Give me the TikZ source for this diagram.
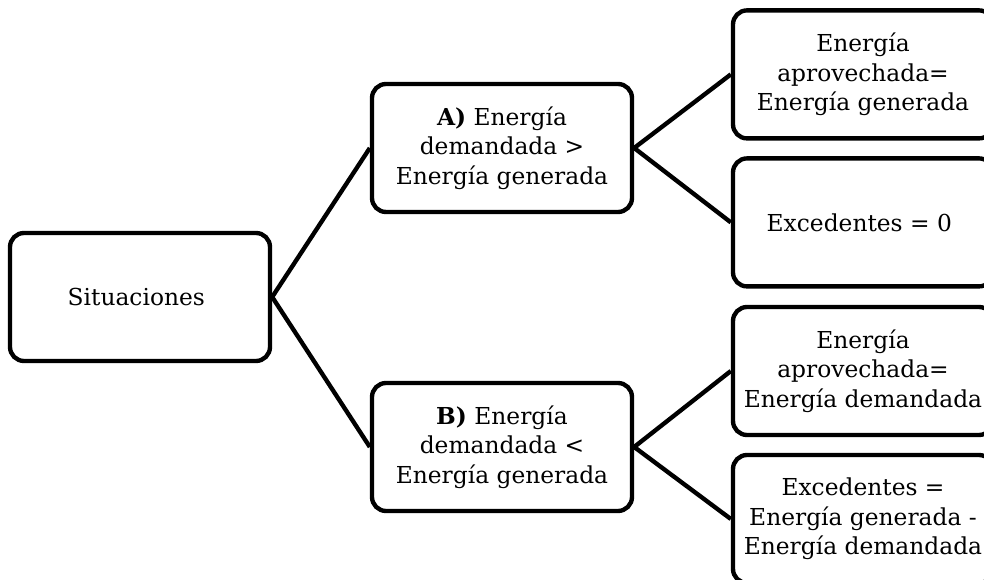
\documentclass[tikz,border=0pt]{standalone}
\usepackage{fontspec}
\setmainfont{DejaVu Serif}
\usepackage{tikz}

\begin{document}
\begin{tikzpicture}[
    box/.style={draw, line width=3.1pt, rounded corners=3.5mm,
      minimum width=6.5cm, minimum height=3.2cm, inner sep=0pt,
      align=center, font=\fontsize{16.6}{21}\selectfont},
    link/.style={line width=3.1pt}]
  \useasboundingbox (0,0) rectangle (24.6,14.5);
  \node [box] (1) at (3.5,7.075) { Situaciones };
  \node [box] (2) at (12.55,10.8) { \textbf{A)} Energía \\
    demandada > \\ Energía generada };
  \node [box] (3) at (12.55,3.325) { \textbf{B)} Energía \\
    demandada < \\ Energía generada };
  \node [box] (4) at (21.575,12.64) { Energía \\ aprovechada= \\
    Energía generada };
  \node [box] (5) at (21.575,8.94) { Excedentes = 0 };
  \node [box] (6) at (21.575,5.225) { Energía \\ aprovechada= \\
    Energía demandada };
  \node [box] (7) at (21.575,1.525) { Excedentes = \\
    Energía generada - \\ Energía demandada };
  \draw [link] (1.east) to (2.west);
  \draw [link] (1.east) to (3.west);
  \draw [link] (2.east) to (4.west);
  \draw [link] (2.east) to (5.west);
  \draw [link] (3.east) to (6.west);
  \draw [link] (3.east) to (7.west);
\end{tikzpicture}
\end{document}
